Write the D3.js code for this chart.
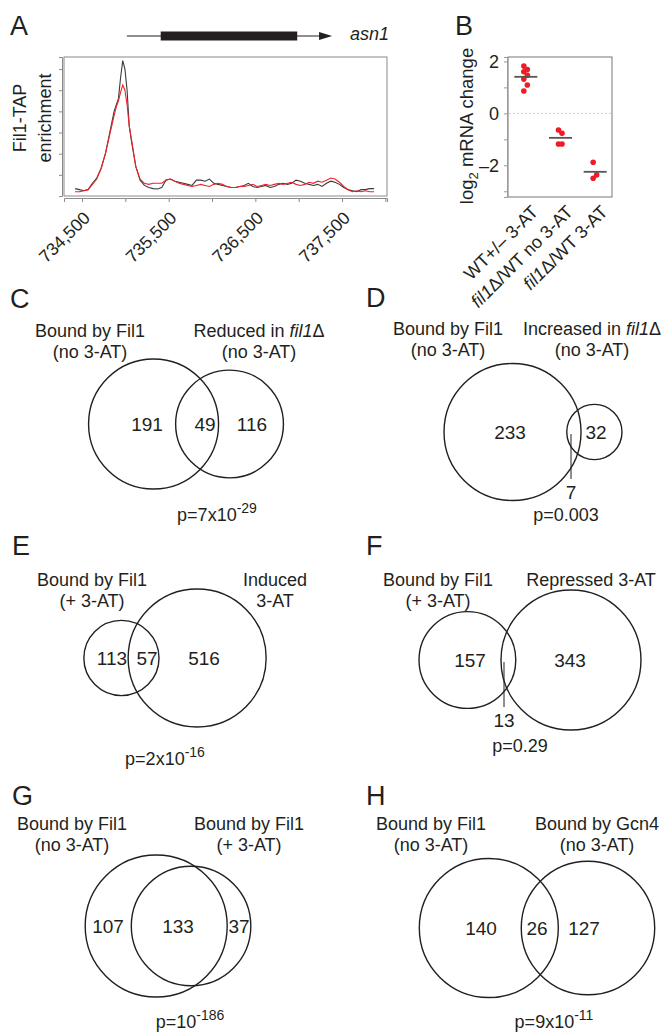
<!DOCTYPE html>
<html>
<head>
<meta charset="utf-8">
<script src="https://cdn.jsdelivr.net/npm/d3@7"></script>
<style>
  body { margin: 0; background: #fff; }
  svg { display: block; font-family: "Liberation Sans", Arial, sans-serif; }
</style>
</head>
<body>
<script>
// ---- Panel A : Fil1-TAP enrichment along asn1 ----
const chipPos = [
  734420, 734470, 734520, 734570, 734620, 734670, 734720, 734770, 734820, 734870,
  734895, 734920, 734945, 734970, 734995, 735020, 735045, 735070, 735120, 735170,
  735220, 735270, 735320, 735370,
  735420, 735470, 735520, 735570, 735620, 735670, 735720, 735770, 735820, 735870,
  735920, 735970, 736020, 736070, 736120, 736170, 736220, 736270, 736320, 736370,
  736420, 736470, 736520, 736570, 736620, 736670, 736720, 736770, 736820, 736870,
  736920, 736970, 737020, 737070, 737120, 737170, 737220, 737270, 737320, 737370,
  737420, 737470, 737520, 737570, 737620, 737670, 737720, 737770, 737820, 737870
];
const chipBlack = [
  0.35, 0.30, 0.25, 0.30, 0.60, 0.85, 1.30, 2.00, 3.00, 4.00,
  4.30, 4.60, 5.60, 6.40, 6.00, 5.00, 3.30, 2.60, 1.40, 0.75,
  0.50, 0.40, 0.35, 0.33,
  0.40, 0.76, 0.80, 0.70, 0.65, 0.60, 0.55, 0.50, 0.75, 0.75,
  0.70, 0.80, 0.60, 0.55, 0.50, 0.45, 0.40, 0.40, 0.45, 0.50,
  0.60, 0.45, 0.40, 0.45, 0.50, 0.40, 0.45, 0.55, 0.60, 0.55,
  0.60, 0.75, 0.70, 0.60, 0.55, 0.50, 0.55, 0.45, 0.60, 0.70,
  0.65, 0.55, 0.40, 0.30, 0.25, 0.20, 0.30, 0.30, 0.35, 0.35
];
const chipRed = [
  0.20, 0.20, 0.25, 0.30, 0.55, 0.80, 1.30, 2.00, 2.90, 3.80,
  4.20, 4.50, 4.90, 5.25, 5.00, 4.30, 3.30, 2.70, 1.40, 0.80,
  0.60, 0.55, 0.60, 0.60,
  0.60, 0.75, 0.80, 0.70, 0.60, 0.55, 0.50, 0.45, 0.50, 0.55,
  0.50, 0.45, 0.55, 0.60, 0.55, 0.45, 0.40, 0.40, 0.45, 0.45,
  0.50, 0.55, 0.45, 0.50, 0.55, 0.50, 0.55, 0.60, 0.55, 0.60,
  0.65, 0.55, 0.50, 0.55, 0.65, 0.60, 0.70, 0.65, 0.75, 0.85,
  0.80, 0.65, 0.45, 0.30, 0.20, 0.25, 0.20, 0.25, 0.20, 0.20
];
const chipTicks = [734500, 735000, 735500, 736000, 736500, 737000, 737500, 738000];
const chipTickLabels = ["734,500", "", "735,500", "", "736,500", "", "737,500", ""];
const geneParts = [735017, 735408, 736983, 737385]; // start, cds start, cds end, end

// ---- Panel B : asn1 mRNA change ----
const mrnaGroups = ["WT+/\u2013 3-AT", "*fil1*\u0394/WT no 3-AT", "*fil1*\u0394/WT 3-AT"];
const mrnaWT = [1.82, 1.69, 1.60, 1.47, 1.32, 1.09, 0.86];
const mrnaFilNo = [-0.64, -0.77, -1.18, -1.18];
const mrnaFil3AT = [-1.88, -2.37, -2.50];

// ---- Panels C-H : Venn diagrams ----
const vennNames = ["C", "D", "E", "F", "G", "H"];
const vennLeftOnly = [191, 233, 113, 157, 107, 140];
const vennBoth = [49, 7, 57, 13, 133, 26];
const vennRightOnly = [116, 32, 516, 343, 37, 127];
const vennLeftLabels = [
  ["Bound by Fil1", "(no 3-AT)"], ["Bound by Fil1", "(no 3-AT)"],
  ["Bound by Fil1", "(+ 3-AT)"], ["Bound by Fil1", "(+ 3-AT)"],
  ["Bound by Fil1", "(no 3-AT)"], ["Bound by Fil1", "(no 3-AT)"]
];
const vennRightLabels = [
  ["Reduced in *fil1*\u0394", "(no 3-AT)"], ["Increased in *fil1*\u0394", "(no 3-AT)"],
  ["Induced", "3-AT"], ["Repressed 3-AT"],
  ["Bound by Fil1", "(+ 3-AT)"], ["Bound by Gcn4", "(no 3-AT)"]
];
const vennPBase = ["p=7x10", "p=0.003", "p=2x10", "p=0.29", "p=10", "p=9x10"];
const vennPExp = ["-29", "", "-16", "", "-186", "-11"];

// layout of each Venn panel (not data): pair centre, biggest radius,
// set label anchors, count label x (left, both, right), letter, p-value
const vennLayout = [
  { cx: 186, cy: 424, rMax: 65, lx: 90, rx: 259, ly: 337, nx: [147, 205, 252], letter: [10, 308], p: [217, 521] },
  { cx: 533, cy: 432, rMax: 68.5, lx: 448, rx: 592, ly: 335, nx: [510, 571, 596], letter: [366, 307], p: [566, 521] },
  { cx: 175, cy: 658, rMax: 69, lx: 92, rx: 275, ly: 586, nx: [112, 147, 204], letter: [12, 555], p: [165, 765] },
  { cx: 530, cy: 660, rMax: 70, lx: 438, rx: 591, ly: 586, nx: [470, 504, 570], letter: [366, 555], p: [520, 752] },
  { cx: 168, cy: 926, rMax: 71, lx: 72, rx: 249, ly: 830, nx: [108, 178, 239], letter: [12, 805], p: [190, 1028] },
  { cx: 537, cy: 928, rMax: 69.5, lx: 431, rx: 597, ly: 830, nx: [481, 537, 584], letter: [366, 805], p: [554, 1028] }
];

const ink = "#231f20";

const svg = d3.select("body")
  .append("svg")
  .attr("width", 666)
  .attr("height", 1032)
  .style("background", "#fff");

// text with *italic* pieces
function richText(sel, str) {
  str.split("*").forEach((part, i) => {
    if (!part) return;
    sel.append("tspan").text(part).style("font-style", i % 2 ? "italic" : "normal");
  });
  return sel;
}

function panelLetter(letter, x, y) {
  svg.append("text")
    .attr("x", x).attr("y", y)
    .text(letter)
    .style("font-size", "27px")
    .style("fill", ink);
}

// ================= Panel A =================
panelLetter("A", 10, 35);

const ax = d3.scaleLinear().domain([734292, 738019]).range([64, 387]);
const ay = d3.scaleLinear().domain([0, 6.57]).range([196, 57]);

const gA = svg.append("g");

// gene model
gA.append("line")
  .attr("x1", ax(geneParts[0])).attr("x2", ax(geneParts[3]) - 8)
  .attr("y1", 36).attr("y2", 36)
  .attr("stroke", ink).attr("stroke-width", 1.2);
gA.append("rect")
  .attr("x", ax(geneParts[1])).attr("y", 31.5)
  .attr("width", ax(geneParts[2]) - ax(geneParts[1])).attr("height", 9)
  .attr("fill", ink);
gA.append("path")
  .attr("d", `M${ax(geneParts[3])},36 l-13,-4 l0,8 z`)
  .attr("fill", ink);
gA.append("text")
  .attr("x", 350).attr("y", 40)
  .text("asn1")
  .style("font-size", "18px").style("font-style", "italic").style("fill", ink);

// frame
gA.append("rect")
  .attr("x", 64).attr("y", 57).attr("width", 323).attr("height", 139)
  .attr("fill", "none").attr("stroke", "#8a8a8a").attr("stroke-width", 1);

// y axis, ticks only
const yAxisA = gA.append("g")
  .attr("transform", "translate(62,0)")
  .call(d3.axisLeft(ay).tickValues([0, 1, 2, 3, 4, 5, 6]).tickSize(3).tickFormat(""));
yAxisA.select(".domain").attr("stroke", "#8a8a8a");
yAxisA.selectAll(".tick line").attr("stroke", "#8a8a8a");

// x axis
const xAxisA = gA.append("g")
  .attr("transform", "translate(0,198)")
  .call(d3.axisBottom(ax).tickValues(chipTicks).tickSize(4).tickFormat(""));
xAxisA.select(".domain").attr("stroke", "#8a8a8a");
xAxisA.selectAll(".tick line").attr("stroke", "#8a8a8a");

chipTicks.forEach((t, i) => {
  if (!chipTickLabels[i]) return;
  gA.append("text")
    .attr("transform", `translate(${ax(t) + 9},219) rotate(-45)`)
    .attr("text-anchor", "end")
    .text(chipTickLabels[i])
    .style("font-size", "17.5px").style("fill", ink);
});

// y label
gA.append("text")
  .attr("transform", "translate(26,118) rotate(-90)")
  .attr("text-anchor", "middle")
  .text("Fil1-TAP")
  .style("font-size", "18px").style("fill", ink);
gA.append("text")
  .attr("transform", "translate(51,118) rotate(-90)")
  .attr("text-anchor", "middle")
  .text("enrichment")
  .style("font-size", "18px").style("fill", ink);

const chipLine = d3.line()
  .x((d, i) => ax(chipPos[i]))
  .y(d => ay(d))
  .curve(d3.curveLinear);

gA.append("path")
  .datum(chipBlack)
  .attr("d", chipLine)
  .attr("fill", "none").attr("stroke", "#3a3a3a").attr("stroke-width", 1.1);
gA.append("path")
  .datum(chipRed)
  .attr("d", chipLine)
  .attr("fill", "none").attr("stroke", "#f0222a").attr("stroke-width", 1.1);

// ================= Panel B =================
panelLetter("B", 455, 35);

const bx = d3.scalePoint().domain(mrnaGroups).range([508, 612]).padding(0.5);
const by = d3.scaleLinear().domain([-3.22, 2.17]).range([197, 57]);
const gB = svg.append("g");

gB.append("rect")
  .attr("x", 508).attr("y", 57).attr("width", 104).attr("height", 140)
  .attr("fill", "none").attr("stroke", "#777").attr("stroke-width", 1);

const yAxisB = gB.append("g")
  .attr("transform", "translate(507,0)")
  .call(d3.axisLeft(by).tickValues([-3, -2, -1, 0, 1, 2]).tickSize(3)
    .tickFormat(d => d % 2 === 0 ? (d < 0 ? "\u2013" + (-d) : d) : ""));
yAxisB.select(".domain").attr("stroke", "#999");
yAxisB.selectAll(".tick line").attr("stroke", "#999");
yAxisB.selectAll(".tick text")
  .attr("x", -8)
  .style("font-size", "18px").style("font-family", "Liberation Sans, Arial, sans-serif")
  .attr("fill", ink);

// dotted zero line
gB.append("line")
  .attr("x1", 509).attr("x2", 611)
  .attr("y1", by(0)).attr("y2", by(0))
  .attr("stroke", "#cfcfcf").attr("stroke-dasharray", "2,2");

// y label with subscript
const ylabB = gB.append("text")
  .attr("transform", "translate(473,126) rotate(-90)")
  .attr("text-anchor", "middle")
  .style("font-size", "18.5px").style("fill", ink);
ylabB.append("tspan").text("log");
ylabB.append("tspan").text("2").attr("dy", 5).style("font-size", "13px");
ylabB.append("tspan").text(" mRNA change").attr("dy", -5);

const mrnaSets = [mrnaWT, mrnaFilNo, mrnaFil3AT];
mrnaSets.forEach((vals, gi) => {
  const cx = bx(mrnaGroups[gi]);
  gB.selectAll(null)
    .data(vals)
    .enter().append("circle")
    .attr("cx", (d, i) => cx + (i % 2 ? 2 : -1.5))
    .attr("cy", d => by(d))
    .attr("r", 2.8)
    .attr("fill", "#ee1c25");
  const m = d3.mean(vals);
  gB.append("line")
    .attr("x1", cx - 11).attr("x2", cx + 12)
    .attr("y1", by(m)).attr("y2", by(m))
    .attr("stroke", "#555").attr("stroke-width", 1.8);
});

mrnaGroups.forEach(g => {
  const t = gB.append("text")
    .attr("transform", `translate(${bx(g) + 14},213) rotate(-45)`)
    .attr("text-anchor", "end")
    .style("font-size", "18px").style("fill", ink);
  richText(t, g);
});

// ================= Venn panels =================
function lensArea(r1, r2, d) {
  if (d >= r1 + r2) return 0;
  if (d <= Math.abs(r1 - r2)) return Math.PI * Math.min(r1, r2) ** 2;
  const a1 = Math.acos((d * d + r1 * r1 - r2 * r2) / (2 * d * r1));
  const a2 = Math.acos((d * d + r2 * r2 - r1 * r1) / (2 * d * r2));
  const k = Math.sqrt((-d + r1 + r2) * (d + r1 - r2) * (d - r1 + r2) * (d + r1 + r2));
  return r1 * r1 * a1 + r2 * r2 * a2 - 0.5 * k;
}

function solveDist(r1, r2, target) {
  let lo = Math.abs(r1 - r2), hi = r1 + r2;
  for (let i = 0; i < 60; i++) {
    const mid = (lo + hi) / 2;
    if (lensArea(r1, r2, mid) > target) lo = mid; else hi = mid;
  }
  return (lo + hi) / 2;
}

vennNames.forEach((name, i) => {
  const L = vennLayout[i];
  const g = svg.append("g");
  panelLetter(name, L.letter[0], L.letter[1]);

  const nLeft = vennLeftOnly[i] + vennBoth[i];
  const nRight = vennRightOnly[i] + vennBoth[i];
  const rScale = d3.scaleSqrt().domain([0, Math.max(nLeft, nRight)]).range([0, L.rMax]);
  const r1 = rScale(nLeft), r2 = rScale(nRight);
  const unit = Math.PI * r1 * r1 / nLeft;
  const d = solveDist(r1, r2, vennBoth[i] * unit);

  const width = r1 + d + r2;
  const c1 = L.cx - width / 2 + r1;
  const c2 = c1 + d;

  g.selectAll("circle")
    .data([[c1, r1], [c2, r2]])
    .enter().append("circle")
    .attr("cx", c => c[0]).attr("cy", L.cy).attr("r", c => c[1])
    .attr("fill", "none").attr("stroke", ink).attr("stroke-width", 1.4);

  const numStyle = t => t.attr("text-anchor", "middle").style("font-size", "19px").style("fill", ink);

  numStyle(g.append("text").attr("x", L.nx[0]).attr("y", L.cy + 7).text(vennLeftOnly[i]));
  numStyle(g.append("text").attr("x", L.nx[2]).attr("y", L.cy + 7).text(vennRightOnly[i]));

  if ((c1 + r1) - (c2 - r2) < 22) {
    g.append("line")
      .attr("x1", L.nx[1]).attr("x2", L.nx[1])
      .attr("y1", L.cy + 2).attr("y2", L.cy + 47)
      .attr("stroke", ink).attr("stroke-width", 1);
    numStyle(g.append("text").attr("x", L.nx[1]).attr("y", L.cy + 67).text(vennBoth[i]));
  } else {
    numStyle(g.append("text").attr("x", L.nx[1]).attr("y", L.cy + 7).text(vennBoth[i]));
  }

  // set labels
  vennLeftLabels[i].forEach((s, k) => {
    richText(g.append("text")
      .attr("x", L.lx).attr("y", L.ly + k * 21)
      .attr("text-anchor", "middle")
      .style("font-size", "18px").style("fill", ink), s);
  });
  vennRightLabels[i].forEach((s, k) => {
    richText(g.append("text")
      .attr("x", L.rx).attr("y", L.ly + k * 21)
      .attr("text-anchor", "middle")
      .style("font-size", "18px").style("fill", ink), s);
  });

  // p-value
  const pt = g.append("text")
    .attr("x", L.p[0]).attr("y", L.p[1])
    .attr("text-anchor", "middle")
    .style("font-size", "18px").style("fill", ink);
  pt.append("tspan").text(vennPBase[i]);
  if (vennPExp[i]) {
    pt.append("tspan").text(vennPExp[i]).attr("dy", -8).style("font-size", "14px");
  }
});
</script>
</body>
</html>
